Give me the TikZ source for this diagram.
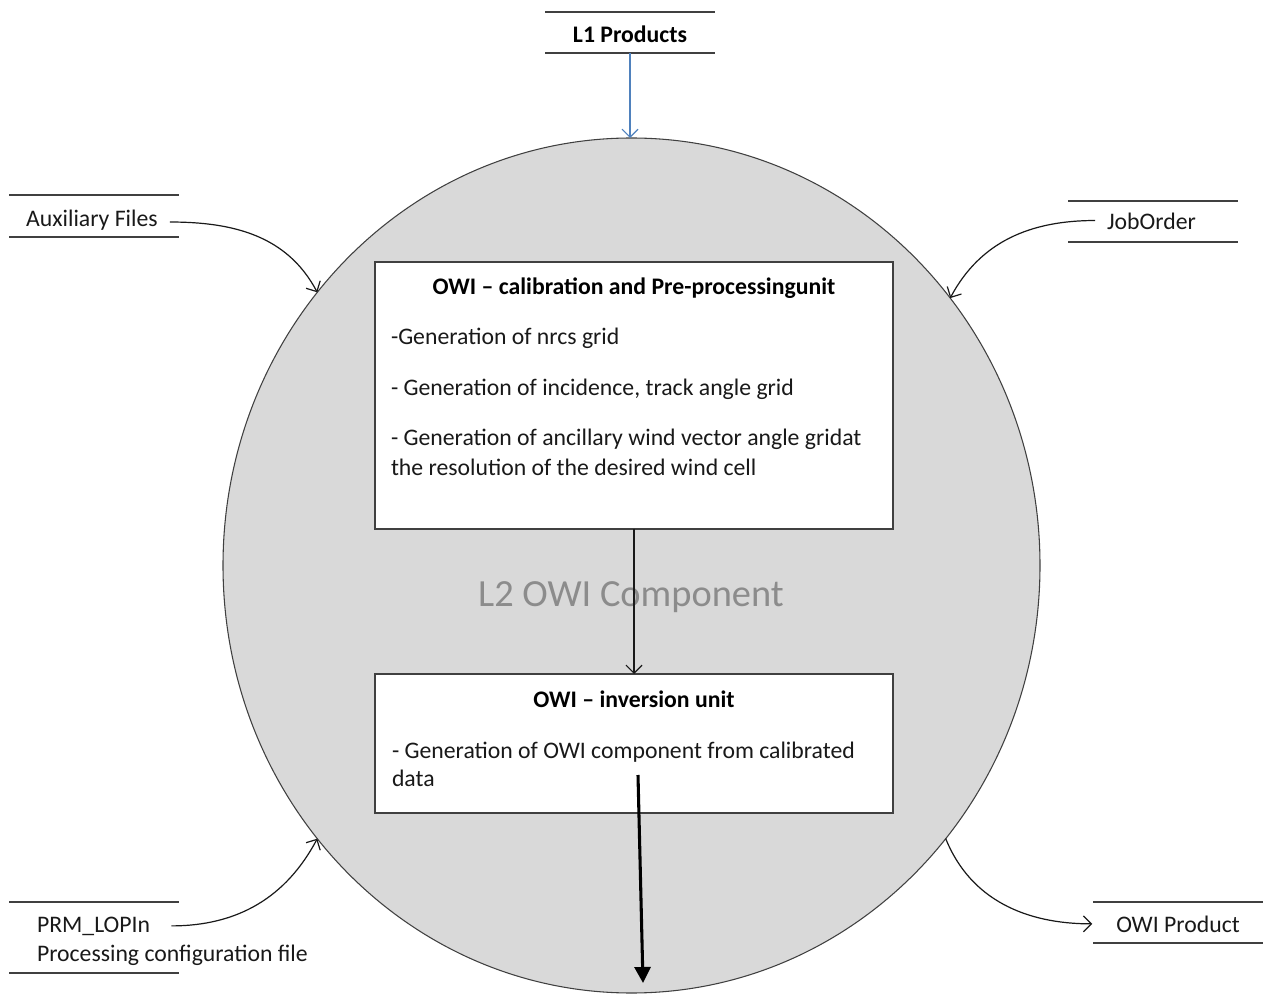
\documentclass[tikz,border=0pt]{standalone}
\usepackage{fontspec}
\setmainfont{Carlito}
\usetikzlibrary{shapes.geometric,arrows.meta}
\definecolor{cfill}{RGB}{217,217,217}
\definecolor{cline}{RGB}{64,64,64}
\definecolor{cgray}{RGB}{140,140,140}
\definecolor{cblue}{RGB}{79,129,189}
\begin{document}
\begin{tikzpicture}[x=0.75pt,y=-0.75pt,
  every node/.style={inner sep=0pt, outer sep=0pt},
  txt/.style={font=\fontsize{17.8pt}{21.75pt}\selectfont, text=black!90},
  ttl/.style={font=\fontsize{17.8pt}{21.75pt}\selectfont\bfseries, text=black},
  store/.style={minimum width=127.5pt},
  rule/.style={draw=cline, line width=1.4pt},
  unit/.style={draw=cline, fill=white, line width=1.1pt, minimum width=388.5pt},
  flow/.style={draw=black!90, line width=0.9pt, -{Straight Barb[length=6pt,width=12pt]}},
  bigflow/.style={draw=black, line width=2.3pt, -{Triangle[length=12pt,width=12pt]}},
]
\useasboundingbox (0,0) rectangle (1264,994);

% main component
\node[ellipse, draw=cline, line width=0.8pt, fill=cfill,
      minimum width=612.75pt, minimum height=641.25pt] (comp) at (631.5,565.5) {};
\node[font=\fontsize{28.8pt}{34pt}\selectfont, text=cgray] (lbl) at (631,597) {L2 OWI Component};

% units
\node[unit, minimum height=200.25pt] (b1) at (634,395.5) {};
\node[ttl, anchor=base] (b1t) at (634,295) {OWI – calibration and Pre-processingunit};
\node[txt, anchor=base west] (b1a) at (391,345) {-Generation of nrcs grid};
\node[txt, anchor=base west] (b1b) at (391,396) {- Generation of incidence, track angle grid};
\node[txt, anchor=base west] (b1c) at (391,446) {- Generation of ancillary wind vector angle gridat};
\node[txt, anchor=base west] (b1d) at (391,476) {the resolution of the desired wind cell};

\node[unit, minimum height=104.25pt] (b2) at (634,743.5) {};
\node[ttl, anchor=base] (b2t) at (634,707) {OWI – inversion unit};
\node[txt, anchor=base west] (b2a) at (392,758) {- Generation of OWI component from calibrated};
\node[txt, anchor=base west] (b2b) at (392,786) {data};

% data stores
\node[store, minimum height=30.75pt] (l1) at (630,32.5) {};
\node[ttl, anchor=base] (l1t) at (630,43) {L1 Products};
\draw[rule] (l1.north west) -- (l1.north east) (l1.south west) -- (l1.south east);

\node[store, minimum height=31pt] (aux) at (94,216) {};
\node[txt, anchor=base] (auxt) at (92,227) {Auxiliary Files};
\draw[rule] (aux.north west) -- (aux.north east) (aux.south west) -- (aux.south east);

\node[store, minimum height=30.75pt] (job) at (1153,221.5) {};
\node[txt, anchor=base] (jobt) at (1151.5,230) {JobOrder};
\draw[rule] (job.north west) -- (job.north east) (job.south west) -- (job.south east);

\node[store, minimum height=53.25pt] (prm) at (94,937.5) {};
\node[txt, anchor=base west] (prmt) at (37,932) {PRM\_LOPIn};
\node[txt, anchor=base west] (prmu) at (37,961) {Processing configuration file};
\draw[rule] (prm.north west) -- (prm.north east) (prm.south west) -- (prm.south east);

\node[store, minimum height=30.75pt] (owi) at (1178,922.5) {};
\node[txt, anchor=base] (owit) at (1178,932) {OWI Product};
\draw[rule] (owi.north west) -- (owi.north east) (owi.south west) -- (owi.south east);

% connectors
\draw[flow, draw=cblue, line width=0.8pt] (l1.south) -- (l1.south |- comp.north);
\draw[flow] ([xshift=9pt,yshift=-1pt]auxt.east) to[out=0, in=118] (comp.139.5);
\draw[flow] ([xshift=-9pt,yshift=1pt]jobt.west) to[out=180, in=62] (comp.40.4);
\draw[flow] ([xshift=16pt]prmt.east) to[out=0, in=-118] (comp.221.5);
\draw[flow] (comp.-41.5) to[out=-68, in=180] ([xshift=-18pt]owit.west);
\draw[flow] (b1.south) -- (b2.north);
\coordinate (dstart) at (638,775);
\coordinate (dend) at (643,983);
\draw[bigflow] (dstart) -- (dend);
\end{tikzpicture}
\end{document}
